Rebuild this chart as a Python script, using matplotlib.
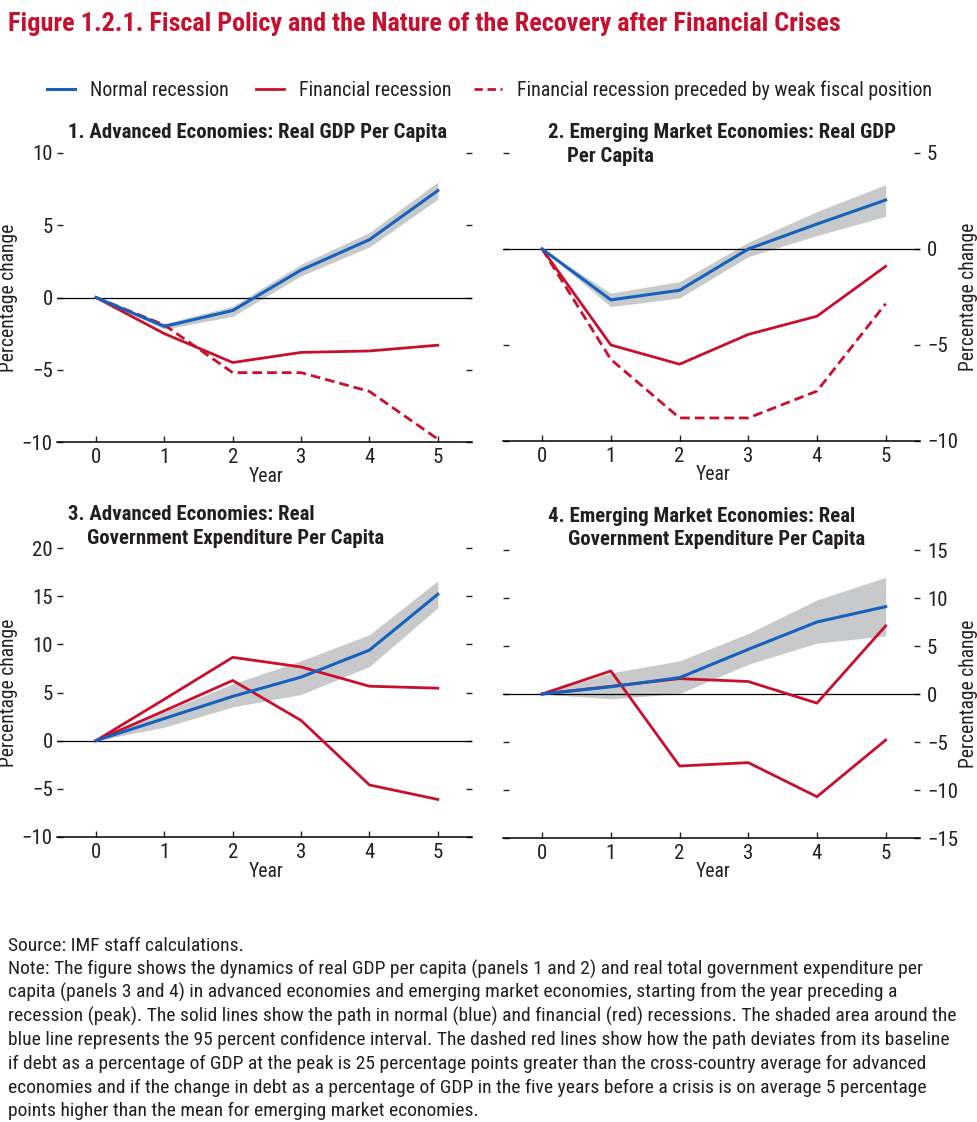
import numpy as np
import matplotlib.pyplot as plt
from matplotlib import font_manager
from matplotlib.lines import Line2D

# pick a condensed sans (the reference uses a Helvetica Condensed style face)
available = {f.name for f in font_manager.fontManager.ttflist}
FONT = 'DejaVu Sans'
for cand in ['Roboto Condensed', 'Archivo Narrow', 'PT Sans Narrow',
             'Liberation Sans Narrow', 'Liberation Sans']:
    if cand in available:
        FONT = cand
        break

plt.rcParams['font.family'] = [FONT, 'DejaVu Sans']
plt.rcParams['text.color'] = '#231f20'
plt.rcParams['axes.labelcolor'] = '#231f20'
plt.rcParams['xtick.color'] = '#231f20'
plt.rcParams['ytick.color'] = '#231f20'

BLUE = '#1462bd'
RED = '#c8102e'
BAND = '#c8c9cb'

W, H = 978, 1122

years = [0, 1, 2, 3, 4, 5]

# 1. Advanced economies: real GDP per capita
ae_gdp_normal = [0, -2.0, -0.9, 1.9, 4.0, 7.4]
ae_gdp_lo = [0, -2.2, -1.3, 1.5, 3.5, 6.8]
ae_gdp_hi = [0, -1.8, -0.6, 2.3, 4.5, 8.0]
ae_gdp_fin = [0, -2.5, -4.5, -3.8, -3.7, -3.3]
ae_gdp_weak = [0, -1.9, -5.2, -5.2, -6.5, -9.8]

# 2. Emerging market economies: real GDP per capita
em_gdp_normal = [0, -2.65, -2.15, 0.0, 1.3, 2.55]
em_gdp_lo = [0, -3.0, -2.55, -0.4, 0.7, 1.7]
em_gdp_hi = [0, -2.3, -1.7, 0.35, 1.95, 3.35]
em_gdp_fin = [0, -5.0, -6.0, -4.45, -3.5, -0.9]
em_gdp_weak = [0, -5.75, -8.8, -8.8, -7.4, -2.85]

# 3. Advanced economies: real government expenditure per capita
ae_exp_normal = [0, 2.3, 4.6, 6.6, 9.4, 15.2]
ae_exp_lo = [0, 1.4, 3.5, 4.8, 7.7, 13.8]
ae_exp_hi = [0, 3.0, 5.9, 8.3, 11.0, 16.6]
ae_exp_fin = [0, 4.3, 8.65, 7.65, 5.65, 5.45]
ae_exp_weak = [0, 3.1, 6.25, 2.1, -4.6, -6.1]

# 4. Emerging market economies: real government expenditure per capita
em_exp_normal = [0, 0.75, 1.7, 4.65, 7.5, 9.1]
em_exp_lo = [0, -0.5, 0.05, 3.1, 5.3, 6.05]
em_exp_hi = [0, 2.2, 3.45, 6.3, 9.8, 12.15]
em_exp_fin = [0, 0.8, 1.6, 1.3, -0.95, 7.1]
em_exp_weak = [0, 2.4, -7.5, -7.15, -10.7, -4.8]

legend_labels = ["Normal recession", "Financial recession",
                 "Financial recession preceded by weak fiscal position"]

panels = [
    dict(normal=ae_gdp_normal, lo=ae_gdp_lo, hi=ae_gdp_hi, fin=ae_gdp_fin,
         weak=ae_gdp_weak, weak_dashed=True, ylim=(-10, 10),
         yticks=[-10, -5, 0, 5, 10], side='left',
         rect=(57, 153, 472, 442),
         title=[("1. Advanced Economies: Real GDP Per Capita", 68, 138)]),
    dict(normal=em_gdp_normal, lo=em_gdp_lo, hi=em_gdp_hi, fin=em_gdp_fin,
         weak=em_gdp_weak, weak_dashed=True, ylim=(-10, 5),
         yticks=[-10, -5, 0, 5], side='right',
         rect=(503, 153, 920, 441),
         title=[("2. Emerging Market Economies: Real GDP", 548, 138),
                ("Per Capita", 567, 162)]),
    dict(normal=ae_exp_normal, lo=ae_exp_lo, hi=ae_exp_hi, fin=ae_exp_fin,
         weak=ae_exp_weak, weak_dashed=False, ylim=(-10, 20),
         yticks=[-10, -5, 0, 5, 10, 15, 20], side='left',
         rect=(57, 548, 472, 837),
         title=[("3. Advanced Economies: Real", 68, 520),
                ("Government Expenditure Per Capita", 87, 544)]),
    dict(normal=em_exp_normal, lo=em_exp_lo, hi=em_exp_hi, fin=em_exp_fin,
         weak=em_exp_weak, weak_dashed=False, ylim=(-15, 15),
         yticks=[-15, -10, -5, 0, 5, 10, 15], side='right',
         rect=(503, 550, 920, 838),
         title=[("4. Emerging Market Economies: Real", 548, 522),
                ("Government Expenditure Per Capita", 568, 545)]),
]

footer = [
    "Source: IMF staff calculations.",
    "Note: The figure shows the dynamics of real GDP per capita (panels 1 and 2) and real total government expenditure per",
    "capita (panels 3 and 4) in advanced economies and emerging market economies, starting from the year preceding a",
    "recession (peak). The solid lines show the path in normal (blue) and financial (red) recessions. The shaded area around the",
    "blue line represents the 95 percent confidence interval. The dashed red lines show how the path deviates from its baseline",
    "if debt as a percentage of GDP at the peak is 25 percentage points greater than the cross-country average for advanced",
    "economies and if the change in debt as a percentage of GDP in the five years before a crisis is on average 5 percentage",
    "points higher than the mean for emerging market economies.",
]
# right ends of the footer lines in the reference (px)
footer_ends = [243, 937, 913, 961, 966, 945, 943, None]

fig = plt.figure(figsize=(W / 100, H / 100), dpi=100)
renderer = fig.canvas.get_renderer()


def fx(x):
    return x / W


def fy(y):
    return 1 - y / H


def fitted_size(text, target_px, **kw):
    # font size that makes `text` about target_px wide
    t = fig.text(0, 0, text, fontsize=20, **kw)
    w = t.get_window_extent(renderer=renderer).width
    t.remove()
    return 20 * target_px / w


title_size = fitted_size(panels[0]['title'][0][0], 379, fontweight='bold')
tick_size = 15
label_size = min(fitted_size("Percentage change", 148), 14.2)

for p in panels:
    x0, y0, x1, y1 = p['rect']
    ax = fig.add_axes([fx(x0), fy(y1), fx(x1) - fx(x0), fy(y0) - fy(y1)])
    ax.fill_between(years, p['lo'], p['hi'], color=BAND, lw=0, zorder=1)
    ax.axhline(0, color='black', lw=0.9, zorder=2)
    ax.plot(years, p['weak'], color=RED, lw=2,
            ls=(0, (3.5, 1.8)) if p['weak_dashed'] else '-', zorder=3)
    ax.plot(years, p['fin'], color=RED, lw=2, zorder=3)
    ax.plot(years, p['normal'], color=BLUE, lw=2.2, zorder=4)

    ax.set_xlim(-0.57, 5.5)
    ax.set_ylim(*p['ylim'])
    ax.set_xticks(years)
    ax.set_yticks(p['yticks'])
    for s in ['top', 'left', 'right']:
        ax.spines[s].set_visible(False)
    ax.spines['bottom'].set_linewidth(1.1)
    ax.patch.set_alpha(0)

    ax.tick_params(axis='x', direction='in', length=4, width=1,
                   labelsize=tick_size, pad=4)
    right = p['side'] == 'right'
    ax.tick_params(axis='y', direction='in', length=4.5, width=1,
                   labelsize=tick_size, left=True, right=True,
                   labelleft=not right, labelright=right,
                   pad=5 if right else 3)
    ax.set_xlabel("Year", fontsize=label_size)
    ax.xaxis.set_label_coords(0.505, -0.085)
    ax.set_ylabel("Percentage change", fontsize=label_size)
    if right:
        ax.yaxis.set_label_position('right')
        ax.yaxis.set_label_coords(1.093, 0.5)
    else:
        ax.yaxis.set_label_coords(-0.093, 0.5)

    for text, tx, ty in p['title']:
        fig.text(fx(tx), fy(ty), text, fontsize=title_size,
                 fontweight='bold', ha='left', va='baseline')

main_title = ("Figure 1.2.1. Fiscal Policy and the Nature of the Recovery "
              "after Financial Crises")
fig.text(fx(8), fy(31), main_title, color=RED,
         fontsize=fitted_size(main_title, 830, fontweight='bold'),
         fontweight='bold', ha='left', va='baseline')

# legend: three single-entry legends placed at the reference's columns
leg_size = fitted_size(legend_labels[2], 414)
leg_px = leg_size * 100 / 72
handles = [Line2D([], [], color=BLUE, lw=2.2),
           Line2D([], [], color=RED, lw=2),
           Line2D([], [], color=RED, lw=2, ls=(0, (3, 1.7)))]
for h, lab, x in zip(handles, legend_labels, [47, 256, 474]):
    leg = fig.legend([h], [lab], loc='center left',
                     bbox_to_anchor=(fx(x), fy(90)), frameon=False,
                     fontsize=leg_size, handlelength=28 / leg_px,
                     handletextpad=15 / leg_px, borderpad=0,
                     borderaxespad=0)

foot_size = min(fitted_size(line, end - 8)
                for line, end in zip(footer, footer_ends) if end)
for i, line in enumerate(footer):
    fig.text(fx(8), fy(951 + 23.6 * i), line, fontsize=foot_size,
             ha='left', va='baseline')

fig.savefig("out.png", dpi=100)
